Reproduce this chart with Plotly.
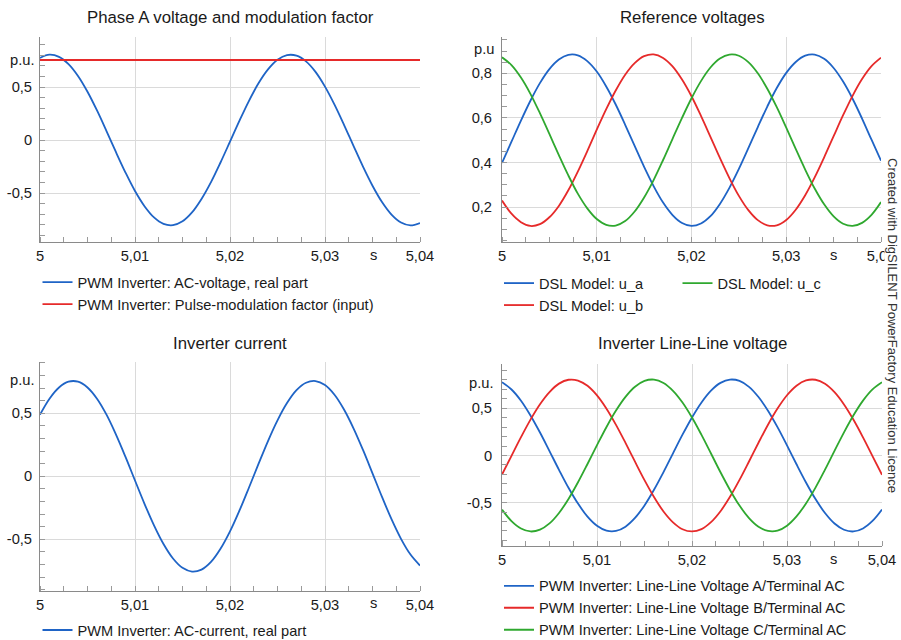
import plotly.graph_objects as go

W, H = 901, 640

# ---- data -----------------------------------------------------------------
# simulation time, s
t = [5.000, 5.001, 5.002, 5.003, 5.004, 5.005, 5.006, 5.007, 5.008, 5.009,
     5.010, 5.011, 5.012, 5.013, 5.014, 5.015, 5.016, 5.017, 5.018, 5.019,
     5.020, 5.021, 5.022, 5.023, 5.024, 5.025, 5.026, 5.027, 5.028, 5.029,
     5.030, 5.031, 5.032, 5.033, 5.034, 5.035, 5.036, 5.037, 5.038, 5.039,
     5.040]

# Phase A voltage and modulation factor (p.u.)
ac_voltage = [0.775, 0.805, 0.785, 0.717, 0.605, 0.456, 0.279, 0.085, -0.115,
              -0.307, -0.481, -0.624, -0.730, -0.791, -0.803, -0.767, -0.683,
              -0.556, -0.397, -0.212, -0.015, 0.183, 0.370, 0.535, 0.666,
              0.757, 0.801, 0.796, 0.742, 0.643, 0.504, 0.334, 0.144, -0.055,
              -0.251, -0.431, -0.585, -0.703, -0.778, -0.805, -0.783]
t_mod = [5.000, 5.040]
mod_factor = [0.755, 0.755]

# Reference voltages (p.u)
u_a = [0.398, 0.493, 0.588, 0.677, 0.756, 0.819, 0.862, 0.883, 0.881, 0.855,
       0.808, 0.741, 0.660, 0.569, 0.474, 0.380, 0.294, 0.220, 0.164, 0.128,
       0.115, 0.126, 0.159, 0.214, 0.286, 0.371, 0.464, 0.559, 0.651, 0.734,
       0.802, 0.851, 0.879, 0.884, 0.865, 0.824, 0.763, 0.686, 0.597, 0.502,
       0.408]
u_b = [0.229, 0.170, 0.132, 0.115, 0.123, 0.154, 0.205, 0.275, 0.359, 0.451,
       0.547, 0.639, 0.723, 0.794, 0.846, 0.877, 0.885, 0.869, 0.831, 0.772,
       0.697, 0.609, 0.515, 0.420, 0.330, 0.250, 0.186, 0.141, 0.118, 0.118,
       0.142, 0.188, 0.253, 0.333, 0.423, 0.518, 0.612, 0.699, 0.774, 0.832,
       0.870]
u_c = [0.872, 0.837, 0.781, 0.708, 0.621, 0.528, 0.433, 0.342, 0.260, 0.194,
       0.146, 0.120, 0.117, 0.137, 0.180, 0.243, 0.321, 0.411, 0.506, 0.600,
       0.688, 0.765, 0.826, 0.866, 0.884, 0.879, 0.850, 0.800, 0.731, 0.648,
       0.556, 0.461, 0.368, 0.283, 0.212, 0.158, 0.125, 0.115, 0.129, 0.165,
       0.222]

# Inverter current (p.u.)
ac_current = [0.489, 0.616, 0.705, 0.751, 0.751, 0.705, 0.616, 0.489, 0.331,
              0.154, -0.033, -0.218, -0.389, -0.537, -0.652, -0.726, -0.756,
              -0.740, -0.679, -0.575, -0.437, -0.271, -0.089, 0.098, 0.280,
              0.444, 0.581, 0.683, 0.742, 0.756, 0.724, 0.647, 0.530, 0.381,
              0.209, 0.024, -0.163, -0.340, -0.496, -0.621, -0.708]

# Inverter line-line voltages (p.u.)
ll_a = [0.776, 0.699, 0.580, 0.424, 0.243, 0.047, -0.152, -0.342, -0.510,
        -0.648, -0.745, -0.797, -0.800, -0.754, -0.662, -0.529, -0.363,
        -0.176, 0.023, 0.220, 0.403, 0.562, 0.687, 0.769, 0.804, 0.790,
        0.727, 0.619, 0.474, 0.300, 0.107, -0.093, -0.286, -0.462, -0.610,
        -0.721, -0.787, -0.805, -0.773, -0.694, -0.573]
ll_b = [-0.202, -0.004, 0.194, 0.380, 0.543, 0.672, 0.761, 0.802, 0.794,
        0.738, 0.636, 0.495, 0.324, 0.133, -0.066, -0.261, -0.440, -0.593,
        -0.708, -0.781, -0.805, -0.780, -0.707, -0.591, -0.438, -0.259,
        -0.064, 0.135, 0.326, 0.497, 0.638, 0.739, 0.795, 0.802, 0.760,
        0.671, 0.541, 0.378, 0.192, -0.006, -0.204]
ll_c = [-0.574, -0.695, -0.774, -0.805, -0.786, -0.720, -0.609, -0.461,
        -0.284, -0.090, 0.109, 0.302, 0.476, 0.621, 0.728, 0.790, 0.804,
        0.768, 0.685, 0.561, 0.402, 0.218, 0.021, -0.178, -0.365, -0.531,
        -0.663, -0.755, -0.800, -0.797, -0.744, -0.646, -0.508, -0.340,
        -0.150, 0.049, 0.245, 0.426, 0.581, 0.700, 0.776]

# tick labels
x_tickvals = [5.00, 5.01, 5.02, 5.03, 5.04]
x_ticktext = ["5", "5,01", "5,02", "5,03", "5,04"]
y_tickvals_sym = [-0.5, 0.0, 0.5]
y_ticktext_sym = ["-0,5", "0", "0,5"]
y_tickvals_ref = [0.2, 0.4, 0.6, 0.8]
y_ticktext_ref = ["0,2", "0,4", "0,6", "0,8"]

# ---- style ----------------------------------------------------------------
FONT = "Liberation Sans, Arial, sans-serif"
TXT = "#1a1a1a"
GRID = "#dadada"
AXIS = "#8a8a8a"
BLUE = "#1f64c6"
RED = "#e62a2a"
GREEN = "#2fa82f"
LW = 1.8
TICK_SIZE = 14.7
LEGEND_SIZE = 14.6
TITLE_SIZE = 16.8


def px_x(p):
    return p / W


def px_y(p):
    return 1 - p / H


def xaxis_cfg(x0, x1, anchor):
    return dict(
        domain=[px_x(x0), px_x(x1)], anchor=anchor, range=[5.0, 5.04],
        tickmode="array", tickvals=x_tickvals, ticktext=x_ticktext,
        showgrid=True, gridcolor=GRID, gridwidth=1, zeroline=False,
        showline=True, linecolor=AXIS, linewidth=1, ticks="",
        tickfont=dict(size=TICK_SIZE, color=TXT, family=FONT),
        minor=dict(tickmode="linear", tick0=5.0, dtick=0.0025, ticks="inside",
                   ticklen=5, tickcolor="#9a9a9a", showgrid=False),
        fixedrange=True,
    )


def yaxis_cfg(y0, y1, rng, tv, tt, minor_dt, anchor, standoff):
    return dict(
        domain=[px_y(y1), px_y(y0)], anchor=anchor, range=rng,
        tickmode="array", tickvals=tv, ticktext=tt,
        showgrid=True, gridcolor=GRID, gridwidth=1, zeroline=False,
        showline=True, linecolor=AXIS, linewidth=1, ticks="",
        ticklabelstandoff=standoff,
        tickfont=dict(size=TICK_SIZE, color=TXT, family=FONT),
        minor=dict(tickmode="linear", tick0=0, dtick=minor_dt, ticks="inside",
                   ticklen=5, tickcolor="#9a9a9a", showgrid=False),
        fixedrange=True,
    )


fig = go.Figure()


def add_line(x, y, color, name, xa, ya, legend, shape="spline", rank=1000):
    fig.add_trace(go.Scatter(
        x=x, y=y, mode="lines", name=name,
        line=dict(color=color, width=LW, shape=shape, smoothing=1.0),
        xaxis=xa, yaxis=ya, legend=legend, legendrank=rank,
        hoverinfo="skip",
    ))


# panel 1: phase A voltage and modulation factor
add_line(t, ac_voltage, BLUE, "PWM Inverter: AC-voltage, real part",
         "x", "y", "legend", rank=1)
add_line(t_mod, mod_factor, RED,
         "PWM Inverter: Pulse-modulation factor (input)",
         "x", "y", "legend", shape="linear", rank=2)

# panel 2: reference voltages
add_line(t, u_a, BLUE, "DSL Model: u_a", "x2", "y2", "legend2", rank=1)
add_line(t, u_b, RED, "DSL Model: u_b", "x2", "y2", "legend2", rank=2)
add_line(t, u_c, GREEN, "DSL Model: u_c", "x2", "y2", "legend3", rank=1)

# panel 3: inverter current
add_line(t, ac_current, BLUE, "PWM Inverter: AC-current, real part",
         "x3", "y3", "legend4")

# panel 4: line-line voltages
add_line(t, ll_a, BLUE, "PWM Inverter: Line-Line Voltage A/Terminal AC",
         "x4", "y4", "legend5", rank=1)
add_line(t, ll_b, RED, "PWM Inverter: Line-Line Voltage B/Terminal AC",
         "x4", "y4", "legend5", rank=2)
add_line(t, ll_c, GREEN, "PWM Inverter: Line-Line Voltage C/Terminal AC",
         "x4", "y4", "legend5", rank=3)


def legend_cfg(x, y):
    return dict(
        x=px_x(x), y=px_y(y), xanchor="left", yanchor="top",
        orientation="v", bgcolor="rgba(0,0,0,0)", borderwidth=0,
        font=dict(size=LEGEND_SIZE, color=TXT, family=FONT),
        tracegroupgap=0, traceorder="normal",
    )


annotations = []


def text(x, y, s, size=TICK_SIZE, xanchor="center"):
    annotations.append(dict(
        x=px_x(x), y=px_y(y), xref="paper", yref="paper", text=s,
        showarrow=False, xanchor=xanchor, yanchor="middle",
        font=dict(size=size, color=TXT, family=FONT),
    ))


# panel titles
text(230, 17, "Phase A voltage and modulation factor", size=TITLE_SIZE)
text(692, 17, "Reference voltages", size=TITLE_SIZE)
text(230, 343, "Inverter current", size=TITLE_SIZE)
text(692, 343, "Inverter Line-Line voltage", size=TITLE_SIZE)

# unit labels
text(37, 60, "p.u.", xanchor="right")
text(496, 49, "p.u", xanchor="right")
text(37, 380, "p.u.", xanchor="right")
text(496, 383, "p.u.", xanchor="right")
text(373, 255, "s")
text(833, 255, "s")
text(373, 603, "s")
text(833, 559, "s")

# licence note along the right edge
annotations.append(dict(
    x=px_x(893), y=px_y(325), xref="paper", yref="paper",
    text="Created with DigSILENT PowerFactory Education Licence",
    textangle=90, showarrow=False, xanchor="center", yanchor="middle",
    bgcolor="white", borderpad=0,
    font=dict(size=13, color="#333333", family=FONT),
))

fig.update_layout(
    width=W, height=H,
    margin=dict(l=0, r=0, t=0, b=0, autoexpand=False),
    paper_bgcolor="white", plot_bgcolor="white",
    font=dict(family=FONT, size=TICK_SIZE, color=TXT),
    showlegend=True,
    xaxis=xaxis_cfg(40, 420, "y"),
    yaxis=yaxis_cfg(37, 242, [-0.962, 0.972], y_tickvals_sym, y_ticktext_sym,
                    0.1, "x", 4),
    xaxis2=xaxis_cfg(502, 881, "y2"),
    yaxis2=yaxis_cfg(37, 242, [0.043, 0.963], y_tickvals_ref, y_ticktext_ref,
                     0.05, "x2", 6),
    xaxis3=xaxis_cfg(40, 420, "y3"),
    yaxis3=yaxis_cfg(362, 591, [-0.910, 0.907], y_tickvals_sym,
                     y_ticktext_sym, 0.1, "x3", 4),
    xaxis4=xaxis_cfg(502, 882, "y4"),
    yaxis4=yaxis_cfg(364, 546, [-0.959, 0.969], y_tickvals_sym,
                     y_ticktext_sym, 0.1, "x4", 6),
    legend=legend_cfg(37.5, 266.1),
    legend2=legend_cfg(499, 267.1),
    legend3=legend_cfg(677.5, 267.1),
    legend4=legend_cfg(37.5, 614.0),
    legend5=legend_cfg(499, 569.8),
    annotations=annotations,
)

fig.write_html("out.html")
